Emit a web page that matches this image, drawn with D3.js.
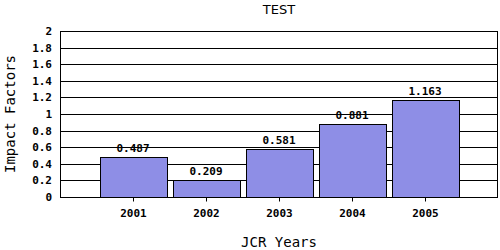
<!DOCTYPE html>
<html>
<head>
<meta charset="utf-8">
<script src="https://cdn.jsdelivr.net/npm/d3@7"></script>
<style>
  body { margin: 0; background: #fff; }
  .tick text, .val { font-family: "DejaVu Sans Mono", monospace; font-weight: bold; font-size: 11px; }
</style>
</head>
<body>
<svg width="500" height="250"></svg>
<script>
// chart data
var years = ["2001", "2002", "2003", "2004", "2005"];
var impact = [0.487, 0.209, 0.581, 0.881, 1.163];
var yTicks = [0, 0.2, 0.4, 0.6, 0.8, 1, 1.2, 1.4, 1.6, 1.8, 2];

var margin = {top: 31, right: 2, bottom: 53, left: 60},
    width = 500 - margin.left - margin.right,
    height = 250 - margin.top - margin.bottom;

var svg = d3.select("svg")
  .append("g")
  .attr("transform", "translate(" + margin.left + "," + margin.top + ")");

var x = d3.scalePoint()
  .domain(years)
  .range([0, width])
  .padding(1);

var y = d3.scaleLinear()
  .domain([0, 2])
  .range([height, 0]);

// grid lines
svg.append("g")
  .selectAll("line")
  .data(yTicks)
  .enter()
  .append("line")
  .attr("x1", 0)
  .attr("x2", width)
  .attr("y1", function(d) { return Math.round(y(d)) + 0.5; })
  .attr("y2", function(d) { return Math.round(y(d)) + 0.5; })
  .attr("stroke", "#000");

// plot border
svg.append("rect")
  .attr("x", 0.5)
  .attr("y", 0.5)
  .attr("width", width - 1)
  .attr("height", height)
  .attr("fill", "none")
  .attr("stroke", "#000");

// bars
var bw = Math.round(x.step() * 0.92);
svg.append("g")
  .selectAll("rect")
  .data(impact)
  .enter()
  .append("rect")
  .attr("x", function(d, i) { return Math.round(x(years[i]) - bw / 2) + 0.5; })
  .attr("y", function(d) { return Math.round(y(d)) + 0.5; })
  .attr("width", bw)
  .attr("height", function(d) { return Math.round(height - y(d)); })
  .attr("fill", "#8e8ee6")
  .attr("stroke", "#000");

// value labels
svg.append("g")
  .selectAll("text")
  .data(impact)
  .enter()
  .append("text")
  .attr("class", "val")
  .attr("x", function(d, i) { return x(years[i]); })
  .attr("y", function(d) { return y(d) - 5; })
  .attr("text-anchor", "middle")
  .text(function(d) { return d3.format(".3f")(d); });

// axes
var yAxis = svg.append("g")
  .call(d3.axisLeft(y).tickValues(yTicks).tickSize(0).tickPadding(8)
    .tickFormat(function(d) { return String(d); }));
yAxis.select(".domain").remove();

var xAxis = svg.append("g")
  .attr("transform", "translate(0," + (height + 0.5) + ")")
  .call(d3.axisBottom(x).tickSize(4).tickPadding(6));
xAxis.select(".domain").remove();
xAxis.selectAll(".tick text").attr("dy", "0.9em");

// titles
d3.select("svg").append("text")
  .attr("x", margin.left + width / 2)
  .attr("y", 14)
  .attr("text-anchor", "middle")
  .style("font-family", "DejaVu Sans, sans-serif")
  .style("font-size", "13px")
  .text("TEST");

d3.select("svg").append("text")
  .attr("x", margin.left + width / 2)
  .attr("y", 247)
  .attr("text-anchor", "middle")
  .style("font-family", "DejaVu Sans Mono, monospace")
  .style("font-size", "14px")
  .text("JCR Years");

d3.select("svg").append("text")
  .attr("transform", "translate(15," + (margin.top + height / 2) + ") rotate(-90)")
  .attr("text-anchor", "middle")
  .style("font-family", "DejaVu Sans Mono, monospace")
  .style("font-size", "14px")
  .text("Impact Factors");
</script>
</body>
</html>
